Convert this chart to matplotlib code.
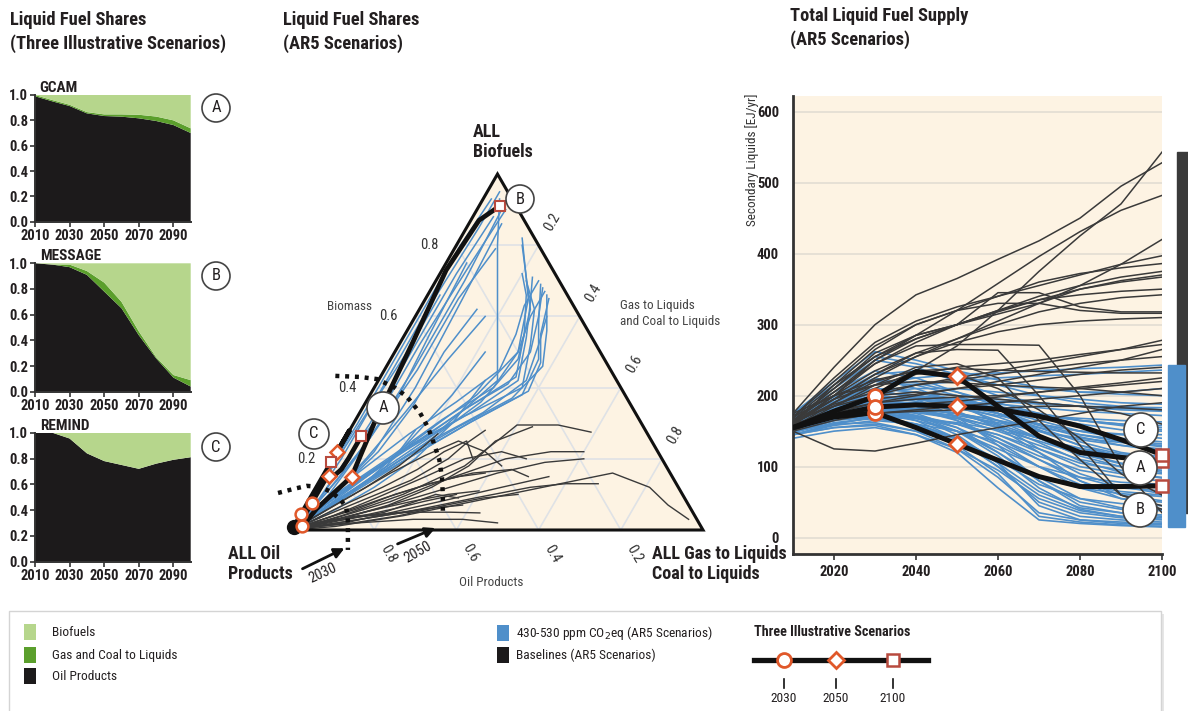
import matplotlib
matplotlib.use("Agg")
import matplotlib.pyplot as plt
import numpy as np
from matplotlib.patches import Rectangle, Circle
from matplotlib import font_manager as fm

_names = {f.name for f in fm.fontManager.ttflist}
_cond_dejavu = any(f.name == 'DejaVu Sans' and 'ondensed' in f.fname for f in fm.fontManager.ttflist)
if 'Liberation Sans Narrow' in _names:
    plt.rcParams['font.family'] = ['Liberation Sans Narrow', 'DejaVu Sans']
    FS = 1.0
elif 'Roboto Condensed' in _names:
    plt.rcParams['font.family'] = ['Roboto Condensed', 'DejaVu Sans']
    FS = 1.0
elif _cond_dejavu:
    plt.rcParams['font.family'] = ['DejaVu Sans']
    plt.rcParams['font.stretch'] = 'condensed'
    FS = 0.95
else:
    plt.rcParams['font.family'] = ['Liberation Sans', 'DejaVu Sans']
    FS = 0.9

# ---------------- colours ----------------
C_BIO = '#b6d68c'; C_GAS = '#5b9f2c'; C_OIL = '#1c1a1b'
C_BLUE = '#4f8fca'; C_BASE = '#3a3a3a'; C_BEIGE = '#fdf3e3'
C_MARK = '#e0582a'; C_SQ = '#b84a3e'; C_TXT = '#231f20'; C_GRID = '#dfe2e6'

# ---------------- data: illustrative shares ----------------
share_years = [2010, 2020, 2030, 2040, 2050, 2060, 2070, 2080, 2090, 2100]
gcam_oil = [0.99, 0.95, 0.913, 0.855, 0.834, 0.829, 0.816, 0.795, 0.763, 0.70]
gcam_gas = [0.01, 0.01, 0.01, 0.01, 0.013, 0.018, 0.028, 0.035, 0.037, 0.037]
message_oil = [1.0, 0.99, 0.97, 0.91, 0.78, 0.65, 0.44, 0.26, 0.11, 0.04]
message_gas = [0.0, 0.0, 0.02, 0.03, 0.07, 0.05, 0.03, 0.01, 0.02, 0.05]
remind_oil = [1.0, 1.0, 0.955, 0.84, 0.78, 0.75, 0.72, 0.76, 0.79, 0.81]
remind_gas = [0.0, 0.0, 0.0, 0.0, 0.0, 0.0, 0.0, 0.0, 0.0, 0.0]

# ---------------- data: ternary AR5 paths (biofuel share, gas/coal-to-liquids share) ----------------
tern_blue = [
    [(0,0),(0.04,0),(0.12,0.005),(0.3,0.01),(0.55,0.01),(0.8,0.01),(0.93,0.02)],
    [(0,0),(0.06,0.01),(0.18,0.01),(0.38,0.02),(0.62,0.02),(0.85,0.03),(0.95,0.03)],
    [(0,0),(0.05,0.02),(0.15,0.03),(0.3,0.04),(0.5,0.04),(0.72,0.04),(0.88,0.05)],
    [(0,0),(0.08,0.01),(0.2,0.02),(0.35,0.02),(0.5,0.03),(0.66,0.03)],
    [(0,0),(0.03,0.02),(0.1,0.04),(0.25,0.06),(0.45,0.07),(0.7,0.07),(0.9,0.06)],
    [(0,0),(0.05,0.03),(0.12,0.06),(0.22,0.09),(0.4,0.1),(0.65,0.09),(0.86,0.08)],
    [(0,0),(0.06,0.05),(0.15,0.12),(0.28,0.22),(0.42,0.29),(0.6,0.2),(0.8,0.1),(0.93,0.04)],
    [(0,0),(0.05,0.04),(0.14,0.1),(0.26,0.18),(0.38,0.26),(0.5,0.3),(0.65,0.25),(0.82,0.15)],
    [(0,0),(0.05,0.05),(0.13,0.11),(0.24,0.2),(0.36,0.28),(0.48,0.31),(0.62,0.27),(0.8,0.16)],
    [(0,0),(0.1,0.03),(0.25,0.06),(0.45,0.08),(0.65,0.08),(0.79,0.1)],
    [(0,0),(0.05,0.03),(0.12,0.08),(0.22,0.16),(0.32,0.26),(0.40,0.36),(0.52,0.32),(0.62,0.28),(0.70,0.22)],
    [(0,0),(0.06,0.03),(0.14,0.09),(0.24,0.17),(0.33,0.27),(0.42,0.34),(0.54,0.30),(0.64,0.26),(0.71,0.23)],
    [(0,0),(0.05,0.04),(0.12,0.10),(0.20,0.18),(0.30,0.28),(0.38,0.37),(0.48,0.36),(0.58,0.31),(0.69,0.26)],
    [(0,0),(0.04,0.03),(0.10,0.08),(0.19,0.16),(0.29,0.26),(0.37,0.35),(0.46,0.38),(0.56,0.34),(0.66,0.29)],
    [(0,0),(0.06,0.04),(0.15,0.10),(0.25,0.18),(0.35,0.26),(0.43,0.33),(0.55,0.29),(0.66,0.24),(0.72,0.20)],
    [(0,0),(0.05,0.03),(0.13,0.09),(0.23,0.17),(0.34,0.25),(0.41,0.32),(0.50,0.33),(0.60,0.30),(0.68,0.27)],
    [(0,0),(0.07,0.03),(0.16,0.08),(0.27,0.15),(0.36,0.22),(0.45,0.28),(0.55,0.27),(0.63,0.25),(0.70,0.25)],
    [(0,0),(0.04,0.04),(0.11,0.10),(0.21,0.19),(0.31,0.29),(0.39,0.38),(0.47,0.37),(0.55,0.33),(0.65,0.30)],
    [(0,0),(0.05,0.02),(0.12,0.07),(0.21,0.14),(0.31,0.21),(0.40,0.29),(0.50,0.30),(0.60,0.28),(0.67,0.28)],
    [(0,0),(0.06,0.05),(0.14,0.12),(0.24,0.20),(0.33,0.30),(0.42,0.36),(0.52,0.34),(0.60,0.32)],
    [(0,0),(0.05,0.03),(0.12,0.06),(0.22,0.1),(0.35,0.12),(0.5,0.12),(0.62,0.14)],
    [(0,0),(0.04,0.04),(0.1,0.09),(0.18,0.14),(0.28,0.17),(0.38,0.2),(0.5,0.22)],
    [(0,0),(0.03,0.03),(0.08,0.07),(0.15,0.12),(0.22,0.15),(0.28,0.16)],
    [(0,0),(0.06,0.02),(0.14,0.04),(0.26,0.06),(0.4,0.07),(0.55,0.06),(0.75,0.05)],
    [(0,0),(0.02,0.03),(0.06,0.08),(0.12,0.14),(0.2,0.2),(0.3,0.24),(0.42,0.26)],
    [(0,0),(0.07,0.02),(0.17,0.03),(0.32,0.05),(0.52,0.05),(0.74,0.06),(0.9,0.07)],
    [(0,0),(0.04,0.02),(0.1,0.05),(0.2,0.08),(0.33,0.11),(0.48,0.14),(0.6,0.17)],
]
tern_base = [
    [(0,0),(0.04,0.1),(0.1,0.22),(0.18,0.33),(0.26,0.38),(0.295,0.40),(0.295,0.5),(0.275,0.59)],
    [(0,0),(0.03,0.08),(0.08,0.2),(0.14,0.3),(0.2,0.42),(0.22,0.52),(0.22,0.60)],
    [(0,0),(0.02,0.07),(0.06,0.18),(0.11,0.3),(0.16,0.42),(0.19,0.52),(0.2,0.61)],
    [(0,0),(0.02,0.1),(0.05,0.25),(0.09,0.4),(0.12,0.52),(0.13,0.6),(0.13,0.68)],
    [(0,0),(0.01,0.1),(0.04,0.25),(0.08,0.4),(0.12,0.55),(0.16,0.7),(0.12,0.81),(0.07,0.88),(0.03,0.95)],
    [(0,0),(0.02,0.06),(0.05,0.15),(0.08,0.25),(0.1,0.33),(0.11,0.4)],
    [(0,0),(0.01,0.05),(0.02,0.15),(0.03,0.28),(0.03,0.4),(0.02,0.49)],
    [(0,0),(0.02,0.05),(0.04,0.14),(0.05,0.26),(0.05,0.36),(0.048,0.433)],
    [(0,0),(0.04,0.06),(0.09,0.14),(0.14,0.22),(0.2,0.28),(0.24,0.3),(0.28,0.33)],
    [(0,0),(0.05,0.05),(0.1,0.1),(0.16,0.16),(0.21,0.22),(0.25,0.28),(0.22,0.36),(0.18,0.42)],
    [(0,0),(0.02,0.04),(0.05,0.1),(0.09,0.18),(0.13,0.27),(0.16,0.36),(0.17,0.45),(0.15,0.5)],
    [(0,0),(0.01,0.04),(0.02,0.1),(0.04,0.2),(0.06,0.3),(0.07,0.38)],
    [(0,0),(0.03,0.04),(0.07,0.09),(0.12,0.16),(0.17,0.22),(0.22,0.26),(0.25,0.3),(0.2,0.34)],
    [(0,0),(0.01,0.03),(0.02,0.08),(0.04,0.15),(0.06,0.22),(0.08,0.28),(0.1,0.35)],
    [(0,0),(0.03,0.1),(0.07,0.2),(0.12,0.28),(0.18,0.34),(0.25,0.37),(0.29,0.44)],
    [(0,0),(0.02,0.12),(0.05,0.22),(0.08,0.32),(0.12,0.45),(0.15,0.55)],
    [(0,0),(0.06,0.06),(0.12,0.12),(0.18,0.17),(0.23,0.2),(0.27,0.22)],
    [(0,0),(0.01,0.06),(0.02,0.14),(0.04,0.24),(0.07,0.34),(0.09,0.42),(0.1,0.5)],
    [(0,0),(0.04,0.08),(0.09,0.16),(0.15,0.25),(0.2,0.32),(0.22,0.4),(0.2,0.47)],
    [(0,0),(0.02,0.05),(0.03,0.12),(0.05,0.2),(0.08,0.26),(0.1,0.3),(0.09,0.36)],
    [(0,0),(0.015,0.04),(0.03,0.09),(0.04,0.17),(0.05,0.24),(0.06,0.3)],
    [(0,0),(0.03,0.06),(0.06,0.13),(0.1,0.2),(0.13,0.27),(0.15,0.33),(0.16,0.39)],
]
# isochrones (biofuel share, gas share), dotted
iso_2030 = [(0.104,-0.086),(0.115,-0.055),(0.124,-0.026),(0.121,0.008),(0.107,0.042),(0.087,0.073),
            (0.065,0.099),(0.039,0.116),(0.0,0.136),(-0.056,0.164)]
iso_2050 = [(0.433,-0.111),(0.430,-0.050),(0.424,-0.005),(0.399,0.052),(0.374,0.093),(0.329,0.147),
            (0.287,0.188),(0.244,0.223),(0.197,0.260),(0.146,0.292),(0.098,0.318),(0.042,0.346)]
tern_ticks = [0.2, 0.4, 0.6, 0.8]

# ---------------- data: total liquid fuel supply (EJ/yr) ----------------
supply_years = [2010, 2020, 2030, 2040, 2050, 2060, 2070, 2080, 2090, 2100]
supply_blue = [
    [165,190,215,225,230,232,235,238,240,243],
    [160,185,205,215,220,225,228,230,233,236],
    [170,200,230,235,225,215,210,205,205,210],
    [155,180,200,205,200,195,190,185,182,180],
    [175,210,250,240,220,200,190,185,180,178],
    [150,170,190,195,190,180,172,168,165,163],
    [160,180,195,200,195,185,175,165,160,155],
    [165,190,210,205,195,180,165,150,140,135],
    [150,165,180,180,175,165,150,138,130,125],
    [170,195,220,215,200,180,160,145,135,128],
    [155,175,185,180,170,155,140,125,115,110],
    [160,180,190,185,175,160,140,120,105,98],
    [145,160,170,168,160,145,125,105,95,90],
    [165,185,200,195,185,165,140,115,100,92],
    [150,168,178,172,160,140,115,95,85,80],
    [170,200,225,210,190,160,125,100,90,85],
    [155,170,175,165,150,125,100,85,78,75],
    [160,175,180,170,155,130,100,75,65,60],
    [145,155,160,150,135,110,85,70,62,58],
    [165,185,195,185,165,135,100,70,55,50],
    [150,165,170,160,140,110,75,55,48,45],
    [160,178,185,175,155,120,80,50,40,38],
    [155,170,172,160,140,105,65,42,35,32],
    [170,195,210,195,170,130,80,45,35,30],
    [140,150,155,145,125,95,55,35,28,25],
    [160,175,180,165,140,100,50,30,25,22],
    [150,160,162,150,125,85,35,25,22,20],
    [165,180,185,170,145,105,45,25,20,18],
    [155,168,170,155,130,90,30,22,18,16],
    [145,155,158,145,120,70,25,20,17,15],
    [175,215,255,245,230,215,200,190,185,180],
    [160,185,205,210,210,205,200,195,190,188],
    [150,170,185,190,185,175,160,150,145,140],
    [168,190,205,200,190,175,155,135,120,112],
    [152,172,182,178,168,150,130,110,100,95],
    [158,178,188,180,165,140,110,85,70,66],
    [162,180,185,172,150,115,70,40,30,28],
    [148,162,168,158,138,100,60,38,30,26],
    [172,205,235,225,205,185,170,160,152,150],
    [157,176,186,182,175,165,155,145,138,132],
    [163,182,192,190,185,170,150,130,118,115],
    [153,168,175,170,160,145,120,90,72,62],
    [167,188,200,192,178,155,120,80,55,45],
    [145,158,165,160,150,135,110,80,60,52],
    [158,172,176,168,150,120,85,55,42,40],
    [150,172,190,195,192,188,183,178,175,172],
    [165,188,205,200,192,182,172,165,160,158],
    [155,175,188,188,182,172,160,150,146,145],
    [170,198,222,218,205,190,175,165,158,152],
    [148,165,178,178,172,162,150,140,134,130],
    [160,182,198,196,188,175,158,142,130,122],
    [153,170,180,176,168,156,140,126,116,106],
    [168,192,210,205,192,175,152,130,114,102],
    [145,160,170,168,162,152,136,118,104,94],
    [162,180,190,186,175,158,134,108,92,84],
    [175,220,262,250,235,222,212,205,202,200],
    [158,178,194,198,196,192,188,185,184,183],
]
supply_base = [
    [175,240,300,342,365,392,418,450,495,528],
    [165,185,210,235,270,320,375,425,470,543],
    [160,200,250,285,320,358,396,431,461,482],
    [165,210,260,285,300,315,330,355,385,420],
    [160,215,265,300,320,340,355,370,385,397],
    [170,225,275,305,325,340,360,372,380,386],
    [158,200,245,275,300,320,340,355,367,375],
    [163,205,250,280,300,318,335,350,362,370],
    [155,190,225,255,280,305,330,350,360,367],
    [168,215,255,280,300,320,335,342,347,350],
    [160,200,235,260,280,300,318,330,338,342],
    [165,210,255,285,300,345,345,325,318,318],
    [170,220,270,300,320,330,330,320,316,316],
    [160,195,230,255,275,290,300,305,308,310],
    [155,180,200,215,225,235,245,255,265,278],
    [165,195,215,230,240,245,250,258,265,272],
    [150,175,190,200,210,220,230,240,250,265],
    [162,188,205,215,222,230,238,245,250,255],
    [158,180,195,202,210,215,222,230,236,240],
    [170,200,222,235,238,236,234,233,232,232],
    [155,172,182,188,192,198,205,212,218,225],
    [160,178,190,195,198,200,205,210,215,220],
    [150,165,175,180,185,190,195,200,205,210],
    [160,195,230,260,265,264,200,130,60,40],
    [165,205,245,270,272,272,271,200,100,35],
    [155,185,215,240,245,225,165,110,60,45],
    [160,190,220,235,230,210,180,140,90,60],
    [150,125,122,133,145,155,165,175,185,190],
    [175,200,215,220,218,215,212,210,205,200],
    [160,170,175,178,180,182,185,185,183,180],
    [165,185,200,205,200,195,190,185,175,160],
]
supply_A = [155,178,199,234,227,185,143,120,113,108]
supply_B = [155,170,176,155,132,109,86,72,72,73]
supply_C = [155,172,184,187,185,181,171,157,138,117]

# ---------------- figure ----------------
W, H = 1188, 711
fig = plt.figure(figsize=(W/100, H/100), dpi=100)

def fax(x0, y0, x1, y1):
    return fig.add_axes([x0/W, 1 - y1/H, (x1-x0)/W, (y1-y0)/H])

# ---------- left: three stacked-area panels ----------
panels = [("GCAM", gcam_oil, gcam_gas, 95, 221.7),
          ("MESSAGE", message_oil, message_gas, 263.3, 391.7),
          ("REMIND", remind_oil, remind_gas, 432.7, 561.7)]
for name, oil, gas, ytop, ybot in panels:
    a = fax(35, ytop, 190.7, ybot)
    oil = np.array(oil); gas = np.array(gas)
    bio = 1 - oil - gas
    a.stackplot(share_years, oil, gas, bio, colors=[C_OIL, C_GAS, C_BIO], lw=0)
    a.set_xlim(2010, 2100); a.set_ylim(0, 1)
    a.set_xticks([2010, 2030, 2050, 2070, 2090])
    a.set_yticks([0, 0.2, 0.4, 0.6, 0.8, 1.0])
    a.set_yticklabels(["0.0", "0.2", "0.4", "0.6", "0.8", "1.0"])
    for s in ['top', 'right']:
        a.spines[s].set_visible(False)
    for s in ['left', 'bottom']:
        a.spines[s].set_linewidth(1.4); a.spines[s].set_color('#333333')
    a.tick_params(length=3.5, width=1.2, labelsize=10.5*FS, pad=1.5, colors='#333333', labelcolor=C_TXT)
    for lab in a.get_xticklabels() + a.get_yticklabels():
        lab.set_fontweight('bold')
    a.text(0.03, 1.0, name, transform=a.transAxes, fontweight='bold', fontsize=11*FS,
           va='bottom', ha='left', color=C_TXT)

# ---------- middle: ternary ----------
S3 = np.sqrt(3) / 2
def tern(pts):
    p = np.asarray(pts, float)
    b, g = p[:, 0], p[:, 1]
    return g + b / 2, b * S3

PX0, PY0, PL = 292, 530, 411
tx = fax(225, 110, 760, 600)
tx.set_xlim((225-PX0)/PL, (760-PX0)/PL)
tx.set_ylim((PY0-600)/PL, (PY0-110)/PL)
tx.axis('off')
tri = tern([(0, 0), (0, 1), (1, 0), (0, 0)])
tx.fill(tri[0], tri[1], color=C_BEIGE, zorder=0)
for v in tern_ticks:
    for seg in ([(v, 0), (v, 1-v)], [(0, v), (1-v, v)], [(0, 1-v), (1-v, 0)]):
        xx, yy = tern(seg)
        tx.plot(xx, yy, color=C_GRID, lw=1.2, zorder=1)
for path in tern_blue:
    xx, yy = tern(path)
    tx.plot(xx, yy, color=C_BLUE, lw=1.1, zorder=2)
for path in tern_base:
    xx, yy = tern(path)
    tx.plot(xx, yy, color=C_BASE, lw=1.0, zorder=3)
tx.plot(tri[0], tri[1], color='#111111', lw=2.2, zorder=4, solid_joinstyle='miter')
for iso in (iso_2030, iso_2050):
    xx, yy = tern(iso)
    tx.plot(xx, yy, color='#111111', lw=3.2, ls=(0, (0.9, 1.3)), zorder=5, clip_on=False)

off = 0.066
for v in tern_ticks:
    x, y = tern([(v, 0)]); tx.text(x[0]-off, y[0], f"{v:.1f}", ha='center', va='center', fontsize=10.5*FS, color='#333333')
    x, y = tern([(1-v, v)]); tx.text(x[0]+off*0.5, y[0]+off*S3, f"{v:.1f}", ha='center', va='center',
                                     fontsize=10.5*FS, color='#333333', rotation=60)
    x, y = tern([(0, 1-v)]); tx.text(x[0]+off*0.5, y[0]-off*S3, f"{v:.1f}", ha='center', va='center',
                                     fontsize=10.5*FS, color='#333333', rotation=-60)

illus = [(gcam_oil, gcam_gas), (message_oil, message_gas), (remind_oil, remind_gas)]
for oil, gas in illus:
    oil = np.array(oil); gas = np.array(gas)
    pts = np.column_stack([1 - oil - gas, gas])
    xx, yy = tern(pts)
    tx.plot(xx, yy, color='#111111', lw=3.4, zorder=6, solid_capstyle='round')
for oil, gas in illus:
    oil = np.array(oil); gas = np.array(gas)
    pts = np.column_stack([1 - oil - gas, gas])
    xx, yy = tern(pts)
    tx.plot(xx[2], yy[2], 'o', ms=8.5, mfc='white', mec=C_MARK, mew=1.8, zorder=8)
    tx.plot(xx[4], yy[4], 'D', ms=7, mfc='white', mec=C_MARK, mew=1.8, zorder=8)
    tx.plot(xx[9], yy[9], 's', ms=7.5, mfc='white', mec=C_SQ, mew=1.5, zorder=8)
x0, y0 = tern([(0.008, 0)])
tx.plot(x0, y0, 'o', ms=10, color='#111111', zorder=7, clip_on=False)

# ---------- right: total liquid fuel supply ----------
ax = fax(793, 96, 1162, 554)
ax.set_xlim(2010, 2100); ax.set_ylim(-23, 622)
ax.set_facecolor(C_BEIGE)
for v in range(0, 601, 100):
    ax.axhline(v, color='#e2ddd3', lw=1.2, zorder=0)
for s in supply_blue:
    ax.plot(supply_years, s, color=C_BLUE, lw=1.2, zorder=2)
for s in supply_base:
    ax.plot(supply_years, s, color=C_BASE, lw=1.1, zorder=3)
for s in (supply_A, supply_B, supply_C):
    ax.plot(supply_years, s, color='#111111', lw=3.6, zorder=5)
for s in (supply_A, supply_B, supply_C):
    ax.plot(2030, s[2], 'o', ms=10, mfc='white', mec=C_MARK, mew=2, zorder=7, clip_on=False)
    ax.plot(2050, s[4], 'D', ms=8.5, mfc='white', mec=C_MARK, mew=2, zorder=7, clip_on=False)
    ax.plot(2100, s[9], 's', ms=9, mfc='white', mec=C_SQ, mew=1.8, zorder=7, clip_on=False)
b100 = [s[-1] for s in supply_base]
l100 = [s[-1] for s in supply_blue]
ax.add_patch(Rectangle((2103.7, min(b100)), 4, max(b100)-min(b100), color='#3a3a3a', clip_on=False, zorder=1))
ax.add_patch(Rectangle((2101.5, min(l100)), 4.1, max(l100)-min(l100), color=C_BLUE, clip_on=False, zorder=2))
ax.set_xticks([2020, 2040, 2060, 2080, 2100])
ax.set_yticks(range(0, 601, 100))
for s in ['top', 'right']:
    ax.spines[s].set_visible(False)
for s in ['left', 'bottom']:
    ax.spines[s].set_linewidth(2); ax.spines[s].set_color('#333333')
ax.tick_params(axis='y', length=0, pad=10, labelsize=10.5*FS, labelcolor=C_TXT)
ax.tick_params(axis='x', length=4, width=1.2, pad=4, labelsize=10.5*FS, labelcolor=C_TXT, colors='#333333')
for lab in ax.get_xticklabels() + ax.get_yticklabels():
    lab.set_fontweight('bold')
ax.text(-0.112, 0.86, "Secondary Liquids [EJ/yr]", transform=ax.transAxes, rotation=90,
        ha='center', va='center', fontsize=9.5*FS, color='#333333')

# ---------- overlay: titles, labels, legend ----------
ov = fig.add_axes([0, 0, 1, 1], zorder=20)
ov.set_xlim(0, W); ov.set_ylim(H, 0); ov.axis('off'); ov.patch.set_alpha(0)

def T(x, y, s, **kw):
    kw.setdefault('color', C_TXT)
    ov.text(x, y, s, **kw)

tkw = dict(fontsize=13.3*FS, fontweight='bold', va='center', ha='left')
T(10, 20, "Liquid Fuel Shares", **tkw); T(10, 44, "(Three Illustrative Scenarios)", **tkw)
T(283, 20, "Liquid Fuel Shares", **tkw); T(283, 44, "(AR5 Scenarios)", **tkw)
T(790, 16, "Total Liquid Fuel Supply", **tkw); T(790, 40, "(AR5 Scenarios)", **tkw)

bkw = dict(fontsize=13*FS, fontweight='bold', va='center', ha='left')
T(473, 132, "ALL", **bkw); T(473, 152, "Biofuels", **bkw)
T(228, 554, "ALL Oil", **bkw); T(228, 574, "Products", **bkw)
T(652, 554, "ALL Gas to Liquids", **bkw); T(652, 574, "Coal to Liquids", **bkw)
T(349, 306, "Biomass", fontsize=9.5*FS, ha='center', va='center', color='#444444')
T(620, 305, "Gas to Liquids", fontsize=9.5*FS, ha='left', va='center', color='#444444')
T(620, 322, "and Coal to Liquids", fontsize=9.5*FS, ha='left', va='center', color='#444444')
T(491, 583, "Oil Products", fontsize=9.5*FS, ha='center', va='center', color='#444444')

akw = dict(arrowstyle='-|>,head_length=0.6,head_width=0.3', color='#111111', lw=2)
ov.annotate("", xy=(347, 547), xytext=(300, 570), arrowprops=akw)
ov.annotate("", xy=(438, 527), xytext=(395, 545), arrowprops=akw)
T(323, 573, "2030", rotation=25, fontsize=10.5*FS, ha='center', va='center')
T(418, 552, "2050", rotation=30, fontsize=10.5*FS, ha='center', va='center')

def circ_label(x, y, s, r=15):
    ov.add_patch(Circle((x, y), r, fc='white', ec='#444444', lw=1.2, zorder=30))
    ov.text(x, y, s, ha='center', va='center', fontsize=12*FS, color=C_TXT, zorder=31)

circ_label(216, 108, "A", 14); circ_label(216, 276, "B", 14); circ_label(216, 447, "C", 14)
circ_label(383, 408, "A", 16); circ_label(314, 434, "C", 15); circ_label(520, 199, "B", 14)
circ_label(1141, 430, "C", 17); circ_label(1140, 468, "A", 17); circ_label(1140, 510, "B", 17)

# legend box
ov.add_patch(Rectangle((12, 614), 1152, 110, fc='#e6e6e6', ec='none', zorder=1))
ov.add_patch(Rectangle((9, 611), 1152, 110, fc='white', ec='#d4d4d4', lw=1, zorder=2))
lkw = dict(fontsize=9.6*FS, va='center', ha='left', zorder=3)
for (y, c, s) in [(632, C_BIO, "Biofuels"), (655, C_GAS, "Gas and Coal to Liquids"), (676, C_OIL, "Oil Products")]:
    ov.add_patch(Rectangle((24, y-8), 12, 16, fc=c, ec='none', zorder=3))
    T(52, y, s, **lkw)
for (y, c, s) in [(633, C_BLUE, "430-530 ppm CO$_2$eq (AR5 Scenarios)"), (655, '#1c1a1b', "Baselines (AR5 Scenarios)")]:
    ov.add_patch(Rectangle((497, y-8), 12, 16, fc=c, ec='none', zorder=3))
    T(516, y, s, **lkw)
T(754, 632, "Three Illustrative Scenarios", fontsize=10.2*FS, fontweight='bold', va='center', ha='left', zorder=3)
ov.plot([754, 928], [660, 660], color='#111111', lw=3.8, zorder=3)
ov.plot(784, 660, 'o', ms=10, mfc='white', mec=C_MARK, mew=2, zorder=4)
ov.plot(836, 660, 'D', ms=8.5, mfc='white', mec=C_MARK, mew=2, zorder=4)
ov.plot(893, 660, 's', ms=9, mfc='white', mec=C_SQ, mew=1.8, zorder=4)
for x, s in [(784, "2030"), (836, "2050"), (893, "2100")]:
    ov.plot([x, x], [679, 688], color='#111111', lw=1.2, zorder=3)
    T(x, 698, s, fontsize=9.6*FS, ha='center', va='center', zorder=3)

fig.savefig("out.png", dpi=100)
